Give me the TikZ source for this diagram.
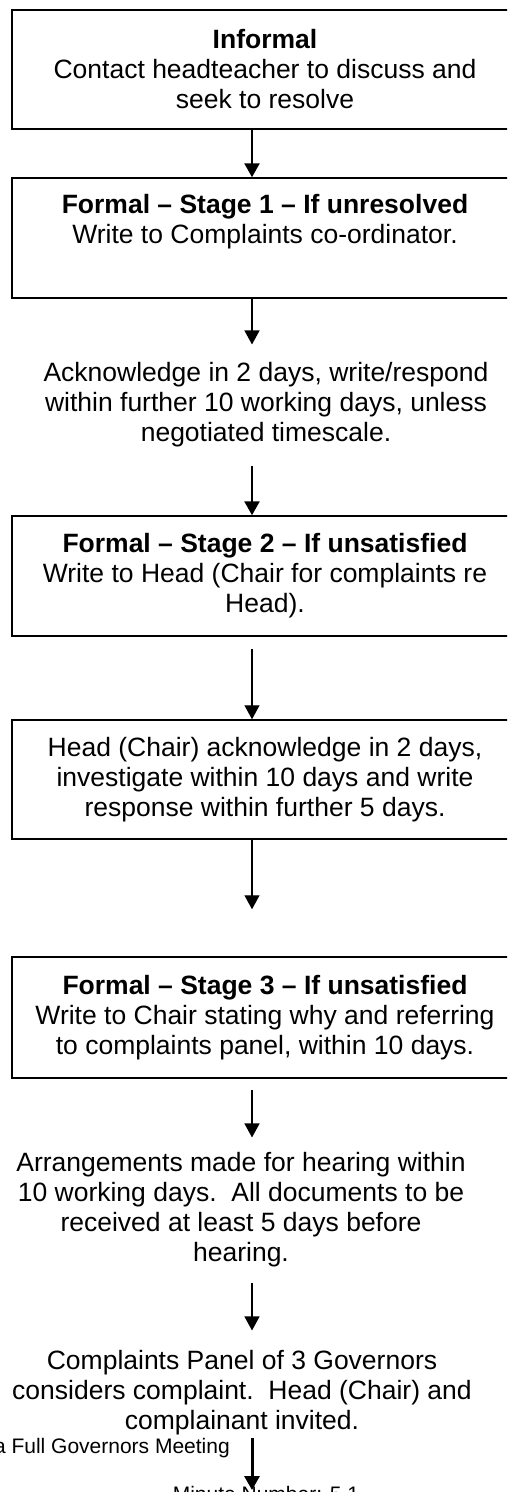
\documentclass[tikz,border=0pt]{standalone}
\usepackage{fontspec}
\setmainfont{Liberation Sans}
\usetikzlibrary{arrows.meta}
\begin{document}
\begin{tikzpicture}[x=1pt,y=-1pt,
  txt/.style={font=\fontsize{26.5}{30}\selectfont, align=center, inner sep=0pt},
  stepbox/.style={txt, draw, line width=1.5pt, minimum width=506pt, minimum height=#1},
  small/.style={font=\fontsize{21}{24}\selectfont, inner sep=0pt},
  athick/.style={-{Triangle[width=15pt,length=14pt]}, line width=2.5pt},
  athin/.style={-{Triangle[width=15pt,length=14pt]}, line width=1.3pt}
]
\useasboundingbox (0,0) rectangle (507,1492);
\clip (0,0) rectangle (507,1492);
\coordinate (ax) at (252,0);

\node[stepbox=119pt] (b1) at (265,69.5) {\textbf{Informal}\\Contact headteacher to discuss and\\seek to resolve};
\node[stepbox=120pt] (b2) at (265,238) {\textbf{Formal – Stage 1 – If unresolved}\\Write to Complaints co-ordinator.\\\strut};
\node[txt] (t1) at (266,405) {Acknowledge in 2 days, write/respond\\within further 10 working days, unless\\negotiated timescale.};
\node[stepbox=120pt] (b3) at (265,576) {\textbf{Formal – Stage 2 – If unsatisfied}\\Write to Head (Chair for complaints re\\Head).};
\node[stepbox=119pt] (b4) at (265,779.5) {Head (Chair) acknowledge in 2 days,\\investigate within 10 days and write\\response within further 5 days.};
\node[stepbox=121pt] (b5) at (265,1017.5) {\textbf{Formal – Stage 3 – If unsatisfied}\\Write to Chair stating why and referring\\to complaints panel, within 10 days.};
\node[txt] (t2) at (241,1210) {Arrangements made for hearing within\\10 working days.\ \ All documents to be\\received at least 5 days before\\hearing.};
\node[txt] (t3) at (242,1393) {Complaints Panel of 3 Governors\\considers complaint.\ \ Head (Chair) and\\complainant invited.};
\node[small, anchor=base east] (fgm) at (230,1453) {a Full Governors Meeting};
\node[small, anchor=base] (mn) at (266,1501) {Minute Number: 5.1};
\coordinate (end) at (252,1490);

\draw[athick] (b1.south -| ax) -- (b2.north -| ax);
\draw[athin, shorten >=18pt] (b2.south -| ax) -- (t1.north -| ax);
\draw[athick, shorten <=18pt] (t1.south -| ax) -- (b3.north -| ax);
\draw[athin, shorten <=12pt] (b3.south -| ax) -- (b4.north -| ax);
\draw[athin, shorten >=47pt] (b4.south -| ax) -- (b5.north -| ax);
\draw[athin, shorten <=11pt, shorten >=15pt] (b5.south -| ax) -- (t2.north -| ax);
\draw[athin, shorten <=15pt, shorten >=20pt] (t2.south -| ax) -- (t3.north -| ax);
\draw[athick, line width=3pt, shorten <=2pt] (t3.south -| ax) -- (end);
\end{tikzpicture}
\end{document}
